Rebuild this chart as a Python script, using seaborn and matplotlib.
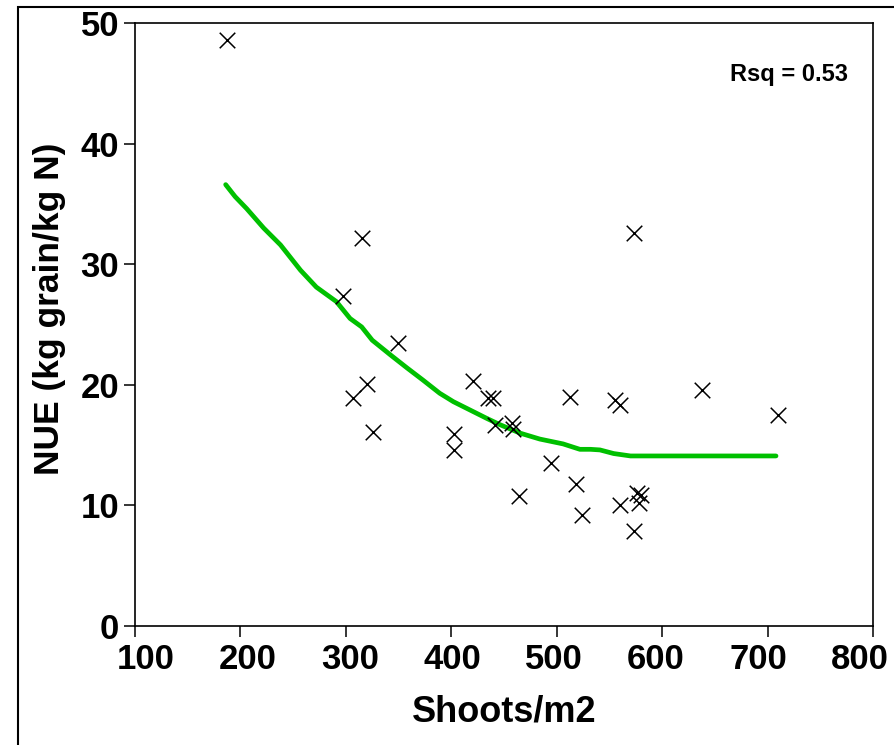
import matplotlib
matplotlib.use("Agg")
import matplotlib.pyplot as plt
import matplotlib.transforms as mtransforms
import seaborn as sns
import pandas as pd
from matplotlib.patches import Rectangle

# Observed data
shoots = [187, 297, 315, 349, 320, 307, 326, 421, 435, 440, 441, 458, 459, 403, 403,
          513, 495, 464, 518, 524, 573, 555, 560, 638, 710, 560, 576, 580, 578, 573]
nue = [48.6, 27.4, 32.2, 23.5, 20.1, 18.9, 16.1, 20.3, 18.9, 18.9, 16.7, 16.8, 16.3, 15.9, 14.6,
       19.0, 13.5, 10.8, 11.8, 9.2, 32.6, 18.7, 18.3, 19.6, 17.5, 10.0, 11.0, 10.9, 10.2, 7.9]

# Fitted (loess) curve
fit_x = [186, 195, 206, 222, 238, 257, 272, 291, 304, 315, 325, 342, 358, 373, 389, 402,
         418, 434, 446, 465, 484, 506, 522, 532, 541, 554, 570, 708]
fit_y = [36.6, 35.6, 34.6, 33.0, 31.6, 29.5, 28.1, 26.9, 25.5, 24.8, 23.7, 22.5, 21.4, 20.4,
         19.3, 18.6, 17.9, 17.2, 16.7, 16.0, 15.5, 15.1, 14.65, 14.65, 14.6, 14.3, 14.1, 14.1]

x_ticks = [100, 200, 300, 400, 500, 600, 700, 800]
y_ticks = [0, 10, 20, 30, 40, 50]
rsq_text = "Rsq = 0.53"

sns.set_style("ticks")
plt.rcParams['font.family'] = ['Liberation Sans', 'DejaVu Sans']
plt.rcParams['font.weight'] = 'bold'
plt.rcParams['text.color'] = 'black'
plt.rcParams['xtick.color'] = 'black'
plt.rcParams['ytick.color'] = 'black'
plt.rcParams['axes.labelcolor'] = 'black'

W, H = 894, 745
fig = plt.figure(figsize=(W / 100, H / 100), dpi=100)
ax = fig.add_axes([135 / W, 1 - 626 / H, (873 - 135) / W, (626 - 23) / H])

pts = pd.DataFrame({"shoots": shoots, "nue": nue})
fit = pd.DataFrame({"x": fit_x, "y": fit_y})

sns.lineplot(data=fit, x="x", y="y", ax=ax, color="#00c000", linewidth=3.4,
             sort=False, estimator=None, zorder=2)
sns.scatterplot(data=pts, x="shoots", y="nue", ax=ax, marker="x", s=125,
                color="black", linewidth=1.1, zorder=3)

ax.set_xlim(100, 800)
ax.set_ylim(0, 50)
ax.set_xticks(x_ticks)
ax.set_yticks(y_ticks)
ax.set_xticklabels([str(t) for t in x_ticks], fontsize=25, fontweight='bold', color='black')
ax.set_yticklabels([str(t) for t in y_ticks], fontsize=25, fontweight='bold', color='black')
ax.tick_params(axis='both', direction='out', length=8, width=1.1, color='black',
               labelcolor='black')
ax.tick_params(axis='x', pad=4)
ax.tick_params(axis='y', pad=3.5)
# the reference places x tick labels on a slightly compressed spacing
for i, lab in enumerate(ax.get_xticklabels()):
    dx = 11 - 3.43 * i
    lab.set_transform(lab.get_transform() + mtransforms.Affine2D().translate(dx, 0))
for sp in ax.spines.values():
    sp.set_visible(True)
    sp.set_color('black')
    sp.set_linewidth(1.2)

ax.set_xlabel("")
ax.set_ylabel("")
fig.text(504 / W, 1 - 712 / H, "Shoots/m2", fontsize=26, fontweight='bold',
         ha='center', va='center', color='black')
fig.text(50 / W, 1 - 309 / H, "NUE (kg grain/kg N)", fontsize=25.5, fontweight='bold',
         rotation=90, ha='center', va='center', color='black')
fig.text(848 / W, 1 - 75 / H, rsq_text, fontsize=17, fontweight='bold',
         ha='right', va='center', color='black')

# outer frame
fig.patches.append(Rectangle((18 / W, -0.05), 1.0, 1 - 7 / H + 0.05,
                             transform=fig.transFigure, fill=False,
                             edgecolor='black', linewidth=1.5, clip_on=False))

fig.savefig("out.png", dpi=100)
